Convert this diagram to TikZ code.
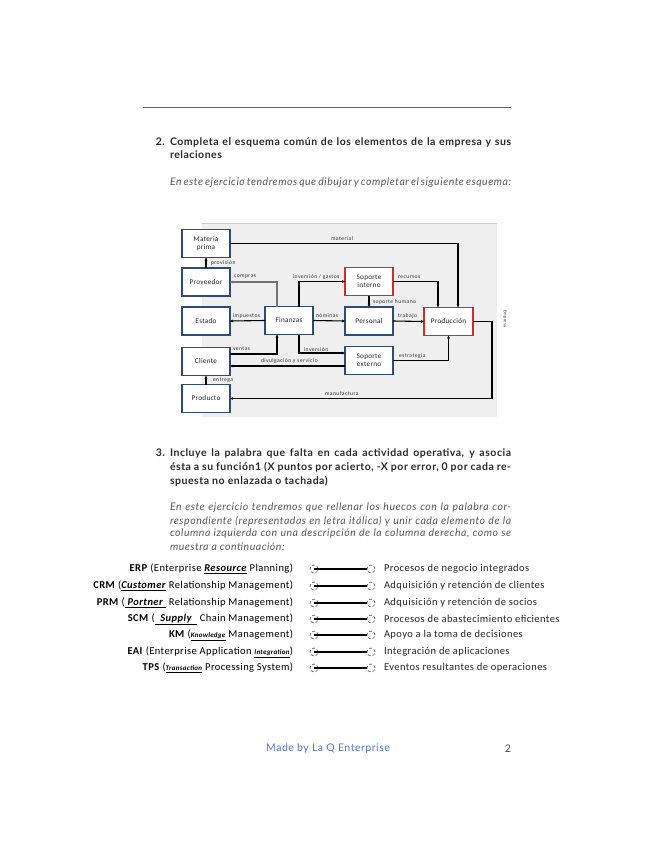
\documentclass[tikz,border=0pt]{standalone}
\usepackage{fontspec}
\setmainfont{Lato}[LetterSpace=5]
\newfontfamily\carl{Carlito}[LetterSpace=4]
\newfontfamily\carlb{Carlito}[LetterSpace=8]
\usetikzlibrary{arrows.meta}
\definecolor{navy}{HTML}{2F4B7C}
\definecolor{boxred}{HTML}{D42A2A}
\definecolor{bggray}{HTML}{EFEFEF}
\definecolor{txt}{HTML}{2B2B2B}
\definecolor{itxt}{HTML}{5A5A5A}
\definecolor{footblue}{HTML}{5577DD}
\newcommand{\undw}[1]{\underline{\textbf{\textit{#1}}}}
\newcommand{\undsm}[1]{\underline{\textbf{\textit{\fontsize{7}{8}\selectfont #1}}}}
\begin{document}
\begin{tikzpicture}[x=1pt,y=-1pt,
  every node/.style={inner sep=0pt, outer sep=0pt},
  ebox/.style={draw=navy, line width=1.4pt, fill=white, minimum width=48pt, minimum height=28pt, font=\carl\fontsize{7.2}{8.2}\selectfont, align=center, text=black!85},
  rbox/.style={ebox, draw=boxred},
  conn/.style={draw=black, line width=1.1pt, -{Stealth[length=3.2pt,width=2.8pt]}},
  lbl/.style={font=\carlb\fontsize{5.6}{6}\selectfont, text=black!80, anchor=west},
  hd/.style={font=\bfseries\fontsize{10.5}{12}\selectfont, text=txt, anchor=west},
  it/.style={font=\itshape\fontsize{10.5}{12}\selectfont, text=itxt, anchor=west},
  lt/.style={font=\carl\fontsize{10.5}{12}\selectfont, text=black, anchor=east},
  rt/.style={font=\carl\fontsize{10.5}{12}\selectfont, text=black!85, anchor=west},
  dc/.style={circle, draw=black!70, densely dashed, line width=0.6pt, minimum size=8pt, fill=white},
  bar/.style={line width=2.3pt, draw=black}
]
\useasboundingbox (0,0) rectangle (655,848);
\fill[white] (0,0) rectangle (655,848);
% top rule
\draw[black!60, line width=0.8pt] (143,107) -- (511,107);
% section 2
\node[hd, anchor=east] (n2) at (165,142) {2.};
\node[hd] (h2a) at (170,142) {\makebox[341pt][s]{Completa el esquema común de los elementos de la empresa y sus}};
\node[hd] (h2b) at (170,155) {relaciones};
\node[it] (i2) at (170,183) {\makebox[341pt][s]{En este ejercicio tendremos que dibujar y completar el siguiente esquema:}};
% diagram background
\fill[bggray] (202,223) rectangle (497,417);
\draw[black!20, line width=0.8pt] (202,223) -- (497,223);
% boxes
\node[ebox] (mp) at (206,243.5) {Materia\\prima};
\node[ebox] (prov) at (206,282) {Proveedor};
\node[ebox] (est) at (206,321) {Estado};
\node[ebox] (cli) at (206,361.5) {Cliente};
\node[ebox] (prod) at (206,398.5) {Producto};
\node[ebox] (fin) at (289,320.5) {Finanzas};
\node[rbox] (si) at (369,281.5) {Soporte\\interno};
\node[ebox] (per) at (369,321) {Personal};
\node[ebox] (se) at (369,360.5) {Soporte\\externo};
\node[rbox, minimum width=49pt] (pcn) at (448.5,321.5) {Producción};
\coordinate (c1) at (492,398.5);
% connectors
\draw[conn] (mp.east) -| ([xshift=9.5pt]pcn.north);
\draw[conn] (prov.north) -- (mp.south);
\draw[conn, draw=black!55] ([xshift=-12pt]fin.north) |- (prov.east);
\draw[conn] ([xshift=10pt]fin.north) |- (si.west);
\draw[conn] (si.east) -| ([xshift=-10.5pt]pcn.north);
\draw[conn] (si.south) -- (per.north);
\draw[conn] (fin.west) -- (est.east);
\draw[conn] (fin.east) -- (per.west);
\draw[conn] (per.east) -- (pcn.west);
\draw[conn] ([yshift=7.5pt]cli.east) -| ([xshift=-12pt]fin.south);
\draw[conn] ([xshift=10pt]fin.south) |- ([yshift=7.5pt]se.west);
\draw[conn] ([yshift=-5.5pt]se.west) -- ([yshift=-5.5pt]se.west -| cli.east);
\draw[conn, line width=1.5pt] (se.east) -| (pcn.south);
\draw[conn] (pcn.east) -| (c1) -- (prod.east);
\draw[conn] (prod.north) -- (cli.south);
% labels
\node[lbl] (lmat) at (331,239) {material};
\node[lbl] (lprv) at (211,263) {provisión};
\node[lbl] (lcom) at (234,277) {compras};
\node[lbl] (linv) at (293,277) {inversión / gastos};
\node[lbl] (lrec) at (398,277) {recursos};
\node[lbl] (lsh) at (373,302) {soporte humano};
\node[lbl] (limp) at (233,316) {impuestos};
\node[lbl] (lnom) at (316,316) {nóminas};
\node[lbl] (ltra) at (398,316) {trabajo};
\node[lbl] (lven) at (233,349) {ventas};
\node[lbl] (linv2) at (304,350) {inversión};
\node[lbl] (ldiv) at (261,361) {divulgación y servicio};
\node[lbl] (lest) at (399,356) {estrategia};
\node[lbl] (lman) at (325,394) {manufactura};
\node[lbl] (lent) at (213,380) {entrega};
\node[lbl, anchor=center, rotate=-90, font=\carl\fontsize{4.5}{5}\selectfont] (lemp) at (505,319) {Empresa};
% section 3
\node[hd, anchor=east] (n3) at (165,453) {3.};
\node[hd] (h3a) at (170,453) {\makebox[341pt][s]{Incluye la palabra que falta en cada actividad operativa, y asocia}};
\node[hd] (h3b) at (170,467) {\makebox[341pt][s]{ésta a su función1 (X puntos por acierto, -X por error, 0 por cada re-}};
\node[hd] (h3c) at (170,481) {spuesta no enlazada o tachada)};
\node[it] (i3a) at (170,508) {\makebox[341pt][s]{En este ejercicio tendremos que rellenar los huecos con la palabra cor-}};
\node[it] (i3b) at (170,521) {\makebox[341pt][s]{respondiente (representadas en letra itálica) y unir cada elemento de la}};
\node[it] (i3c) at (170,534) {\makebox[341pt][s]{columna izquierda con una descripción de la columna derecha, como se}};
\node[it] (i3d) at (170,547) {muestra a continuación:};
% list
\node[lt] (l1) at (293,569) {\textbf{ERP} (Enterprise \undw{Resource} Planning)};
\node[lt] (l2) at (293,586) {\textbf{CRM} (\undw{Customer} Relationship Management)};
\node[lt] (l3) at (293,603) {\textbf{PRM} (\undw{\ Portner\ } Relationship Management)};
\node[lt] (l4) at (293,619) {\textbf{SCM} (\undw{\ \ Supply\ \ } Chain Management)};
\node[lt] (l5) at (293,635) {\textbf{KM} (\undsm{Knowledge} Management)};
\node[lt] (l6) at (293,652) {\textbf{EAI} (Enterprise Application \undsm{Integration})};
\node[lt] (l7) at (293,668) {\textbf{TPS} (\undsm{Transaction} Processing System)};
\node[rt] (r1) at (384,569) {Procesos de negocio integrados};
\node[rt] (r2) at (384,586) {Adquisición y retención de clientes};
\node[rt] (r3) at (384,603) {Adquisición y retención de socios};
\node[rt] (r4) at (384,619) {Procesos de abastecimiento eficientes};
\node[rt] (r5) at (384,635) {Apoyo a la toma de decisiones};
\node[rt] (r6) at (384,652) {Integración de aplicaciones};
\node[rt] (r7) at (384,668) {Eventos resultantes de operaciones};
\foreach \i/\yy in {1/569,2/586,3/603,4/619,5/635,6/652,7/668}{
  \node[dc] (cl\i) at (314,\yy) {};
  \node[dc] (cr\i) at (371,\yy) {};
  \draw[bar] (cl\i.center) -- (cr\i.west);
}
% footer
\node[font=\fontsize{10.5}{12}\selectfont, text=footblue] (foot) at (328,749) {Made by La Q Enterprise};
\node[font=\fontsize{10.5}{12}\selectfont, text=black!70] (pg) at (508,749) {2};
\end{tikzpicture}
\end{document}
